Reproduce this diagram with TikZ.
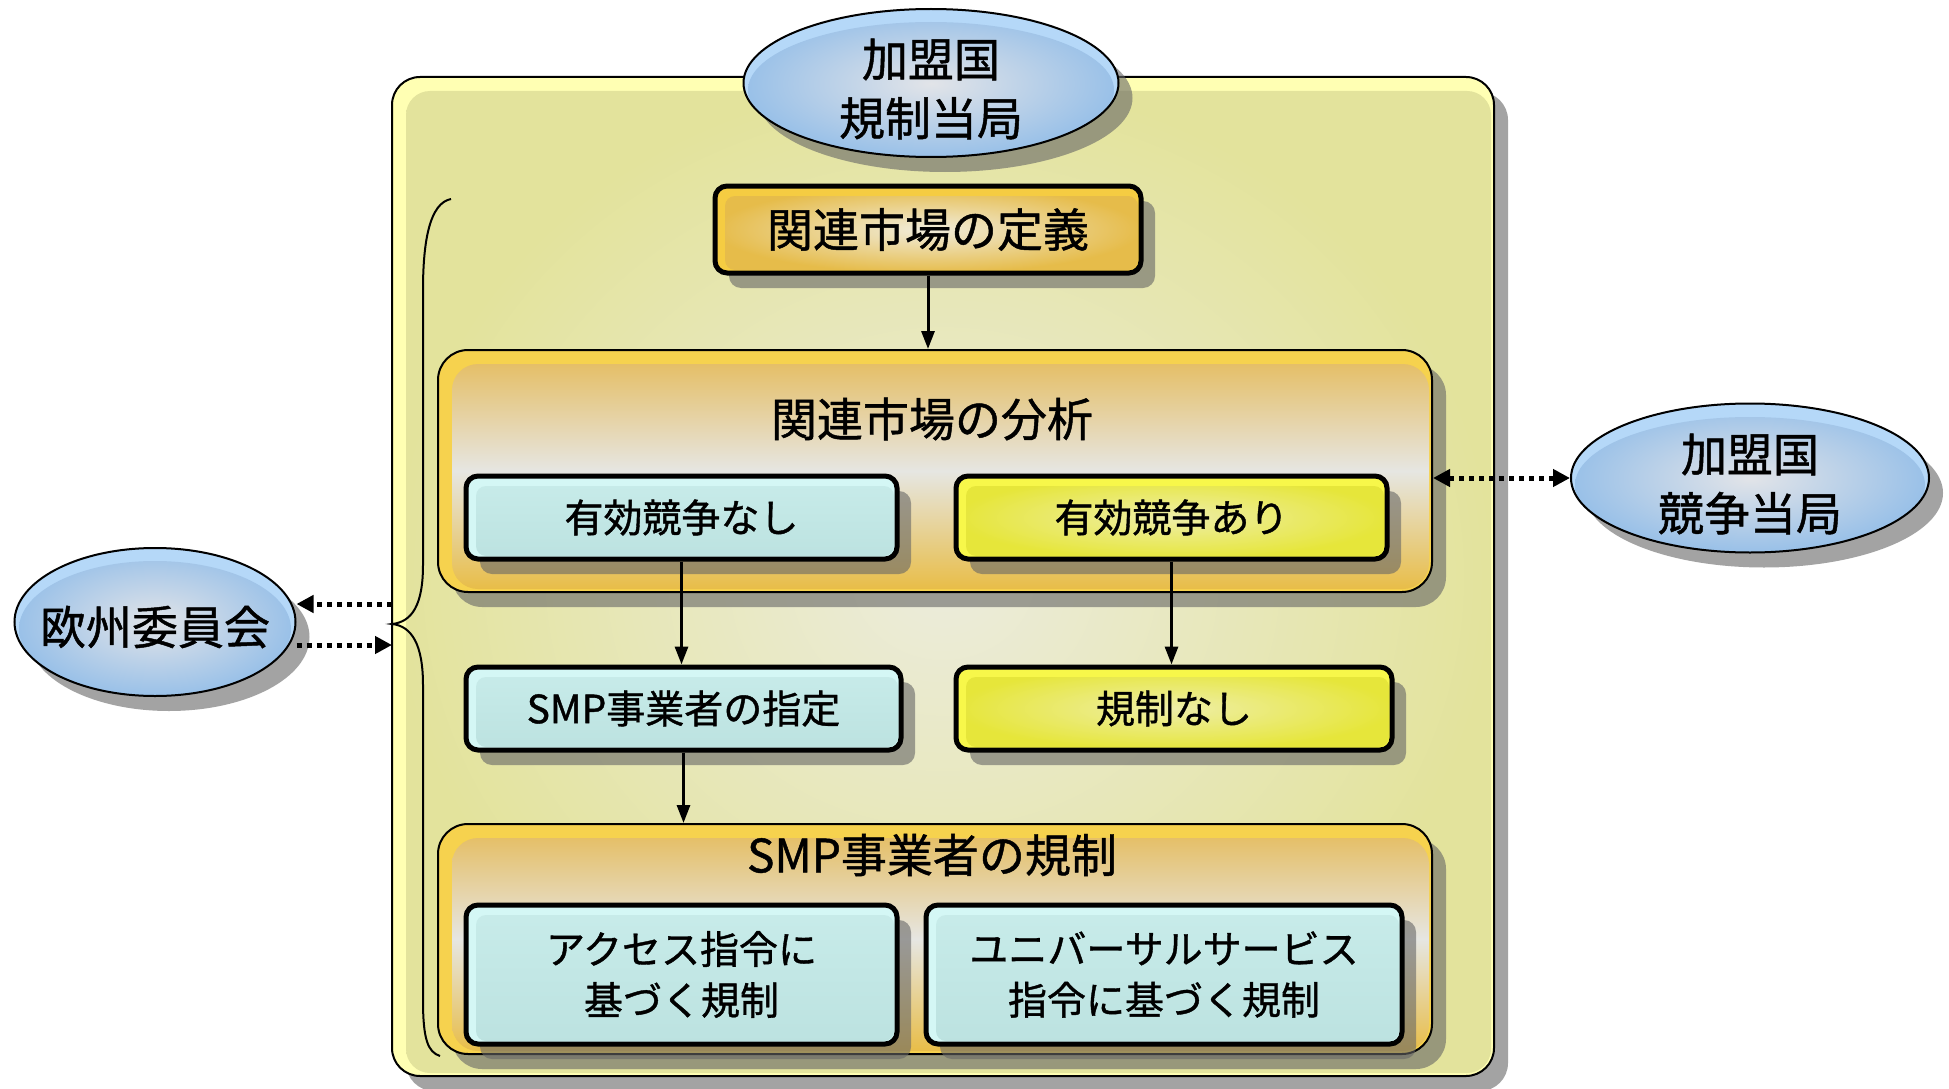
\documentclass[tikz,border=0pt]{standalone}
\usepackage{fontspec}
\setmainfont{Noto Sans CJK JP}[FakeBold=1]
\usetikzlibrary{shadows,arrows.meta,calc,shapes.geometric}
\definecolor{outrim}{HTML}{FFFFB3}
\definecolor{outin}{HTML}{ECECDC}
\definecolor{outout}{HTML}{E3E39C}
\definecolor{orrim}{HTML}{F6D24E}
\definecolor{ortop}{HTML}{E5BA58}
\definecolor{ormid}{HTML}{E6E6E2}
\definecolor{orbot}{HTML}{E8BC44}
\definecolor{goldrim}{HTML}{F5CC42}
\definecolor{goldin}{HTML}{F0ECDC}
\definecolor{goldout}{HTML}{E6BC4A}
\definecolor{cyrim}{HTML}{D4F7F5}
\definecolor{cytop}{HTML}{C8ECEA}
\definecolor{cybot}{HTML}{BCE2E0}
\definecolor{yerim}{HTML}{F7F74A}
\definecolor{yein}{HTML}{EEEEA8}
\definecolor{yeout}{HTML}{E6E63A}
\definecolor{elrim}{HTML}{B5D8F8}
\definecolor{elin}{HTML}{E2E4E8}
\definecolor{elout}{HTML}{98C0E8}
\tikzset{
  shad/.style={drop shadow={shadow xshift=14pt,shadow yshift=-15pt,fill=black!60,opacity=.6}},
  bigfont/.style={font=\fontsize{46}{59}\selectfont},
  smallfont/.style={font=\fontsize{39}{51}\selectfont},
  inset/.style n args={4}{path picture={\path[rounded corners=#1,#2]
      ([xshift=#3,yshift=-#3]path picture bounding box.north west) rectangle
      ([xshift=-#4,yshift=#4]path picture bounding box.south east);}},
  outerbox/.style={shad, draw=black, line width=2pt, rounded corners=28pt, fill=outrim, inner sep=0pt,
      inset={24pt}{inner color=outin, outer color=outout}{14pt}{3pt}},
  orangebox/.style={shad, draw=black, line width=2pt, rounded corners=30pt, fill=orrim, inner sep=0pt,
      inset={26pt}{top color=ortop, bottom color=orbot, middle color=ormid}{14pt}{3pt}},
  goldbox/.style={shad, draw=black, line width=5pt, rounded corners=12pt, fill=goldrim, inner sep=0pt, bigfont,
      inset={10pt}{inner color=goldin, outer color=goldout}{10pt}{3pt}},
  cyanbox/.style={shad, draw=black, line width=5pt, rounded corners=12pt, fill=cyrim, inner sep=0pt, smallfont, align=center,
      inset={10pt}{top color=cytop, bottom color=cybot}{10pt}{3pt}},
  yelbox/.style={shad, draw=black, line width=5pt, rounded corners=12pt, fill=yerim, inner sep=0pt, smallfont, align=center,
      inset={10pt}{inner color=yein, outer color=yeout}{10pt}{3pt}},
  ell/.style n args={2}{ellipse, shad, draw=black, line width=2pt, fill=elrim, inner sep=0pt,
      path picture={\path[inner color=elin, outer color=elout] ([yshift=-7pt]path picture bounding box.center) ellipse [x radius=#1, y radius=#2];}},
  elltext/.style={bigfont, align=center, inner sep=0pt},
  arr/.style={line width=3pt, -{Triangle[length=18pt,width=13pt]}},
  dotarr/.style={line width=5pt, dash pattern=on 5pt off 5pt, -{Triangle[length=17pt,width=17pt]}},
}
\begin{document}
\begin{tikzpicture}[x=1pt,y=-1pt]
\fill[white] (0,0) rectangle (1949,1089);
\useasboundingbox (0,0) rectangle (1949,1089);

\node[outerbox, minimum width=1102pt, minimum height=999pt] (outer) at (943,576.5) {};
\draw[line width=2pt] (451,199) .. controls (430,203) and (423,240) .. (423,290) -- (423,565)
   .. controls (423,605) and (412,622) .. (392,624) .. controls (412,626) and (423,645) .. (423,685)
   -- (423,1000) .. controls (423,1040) and (428,1052) .. (440,1056);

\node[goldbox, minimum width=426pt, minimum height=87pt] (def) at (928,229.5) {関連市場の定義};
\node[orangebox, minimum width=994pt, minimum height=242pt] (ana) at (935,471) {};
\node[bigfont] (anat) at (932,419) {関連市場の分析};
\node[cyanbox, minimum width=431pt, minimum height=83pt] (nashi) at (681.5,517.5) {\raisebox{-3pt}{有効競争なし}};
\node[yelbox, minimum width=431pt, minimum height=83pt] (ari) at (1171.5,517.5) {\raisebox{-3pt}{有効競争あり}};
\node[cyanbox, minimum width=435pt, minimum height=83pt] (shitei) at (683.5,708.5) {\raisebox{-3pt}{SMP事業者の指定}};
\node[yelbox, minimum width=436pt, minimum height=83pt] (nokisei) at (1174,708.5) {\raisebox{-3pt}{規制なし}};
\node[orangebox, minimum width=994pt, minimum height=230pt] (reg) at (935,939) {};
\node[bigfont] (regt) at (932,855) {SMP事業者の規制};
\node[cyanbox, minimum width=431pt, minimum height=139pt] (acc) at (681.5,974.5) {アクセス指令に\\基づく規制};
\node[cyanbox, minimum width=476pt, minimum height=139pt] (uni) at (1164,974.5) {ユニバーサルサービス\\指令に基づく規制};

\node[ell={183pt}{68pt}, minimum width=375pt, minimum height=148pt] (nra) at (931,83) {};
\node[elltext] (nrat) at (931,89) {加盟国\\規制当局};
\node[ell={136pt}{68pt}, minimum width=281pt, minimum height=148pt] (ec) at (155,622) {};
\node[elltext] (ect) at (155,627) {欧州委員会};
\node[ell={175pt}{68pt}, minimum width=358pt, minimum height=149pt] (nca) at (1750,478) {};
\node[elltext] (ncat) at (1750,484) {加盟国\\競争当局};

\draw[arr] (def) -- (def.south |- ana.north);
\draw[arr] (nashi) -- (nashi.south |- shitei.north);
\draw[arr] (ari) -- (ari.south |- nokisei.north);
\draw[arr] (shitei) -- (shitei.south |- reg.north);

\coordinate (l1) at (392,604);
\coordinate (l2) at (392,645);
\draw[dotarr] (l1) -- (ec.east |- l1);
\draw[dotarr] (ec.east |- l2) -- (l2);
\draw[dotarr, {Triangle[length=17pt,width=17pt]}-{Triangle[length=17pt,width=17pt]}] (ana.east |- nca.west) -- (nca.west);
\end{tikzpicture}
\end{document}
